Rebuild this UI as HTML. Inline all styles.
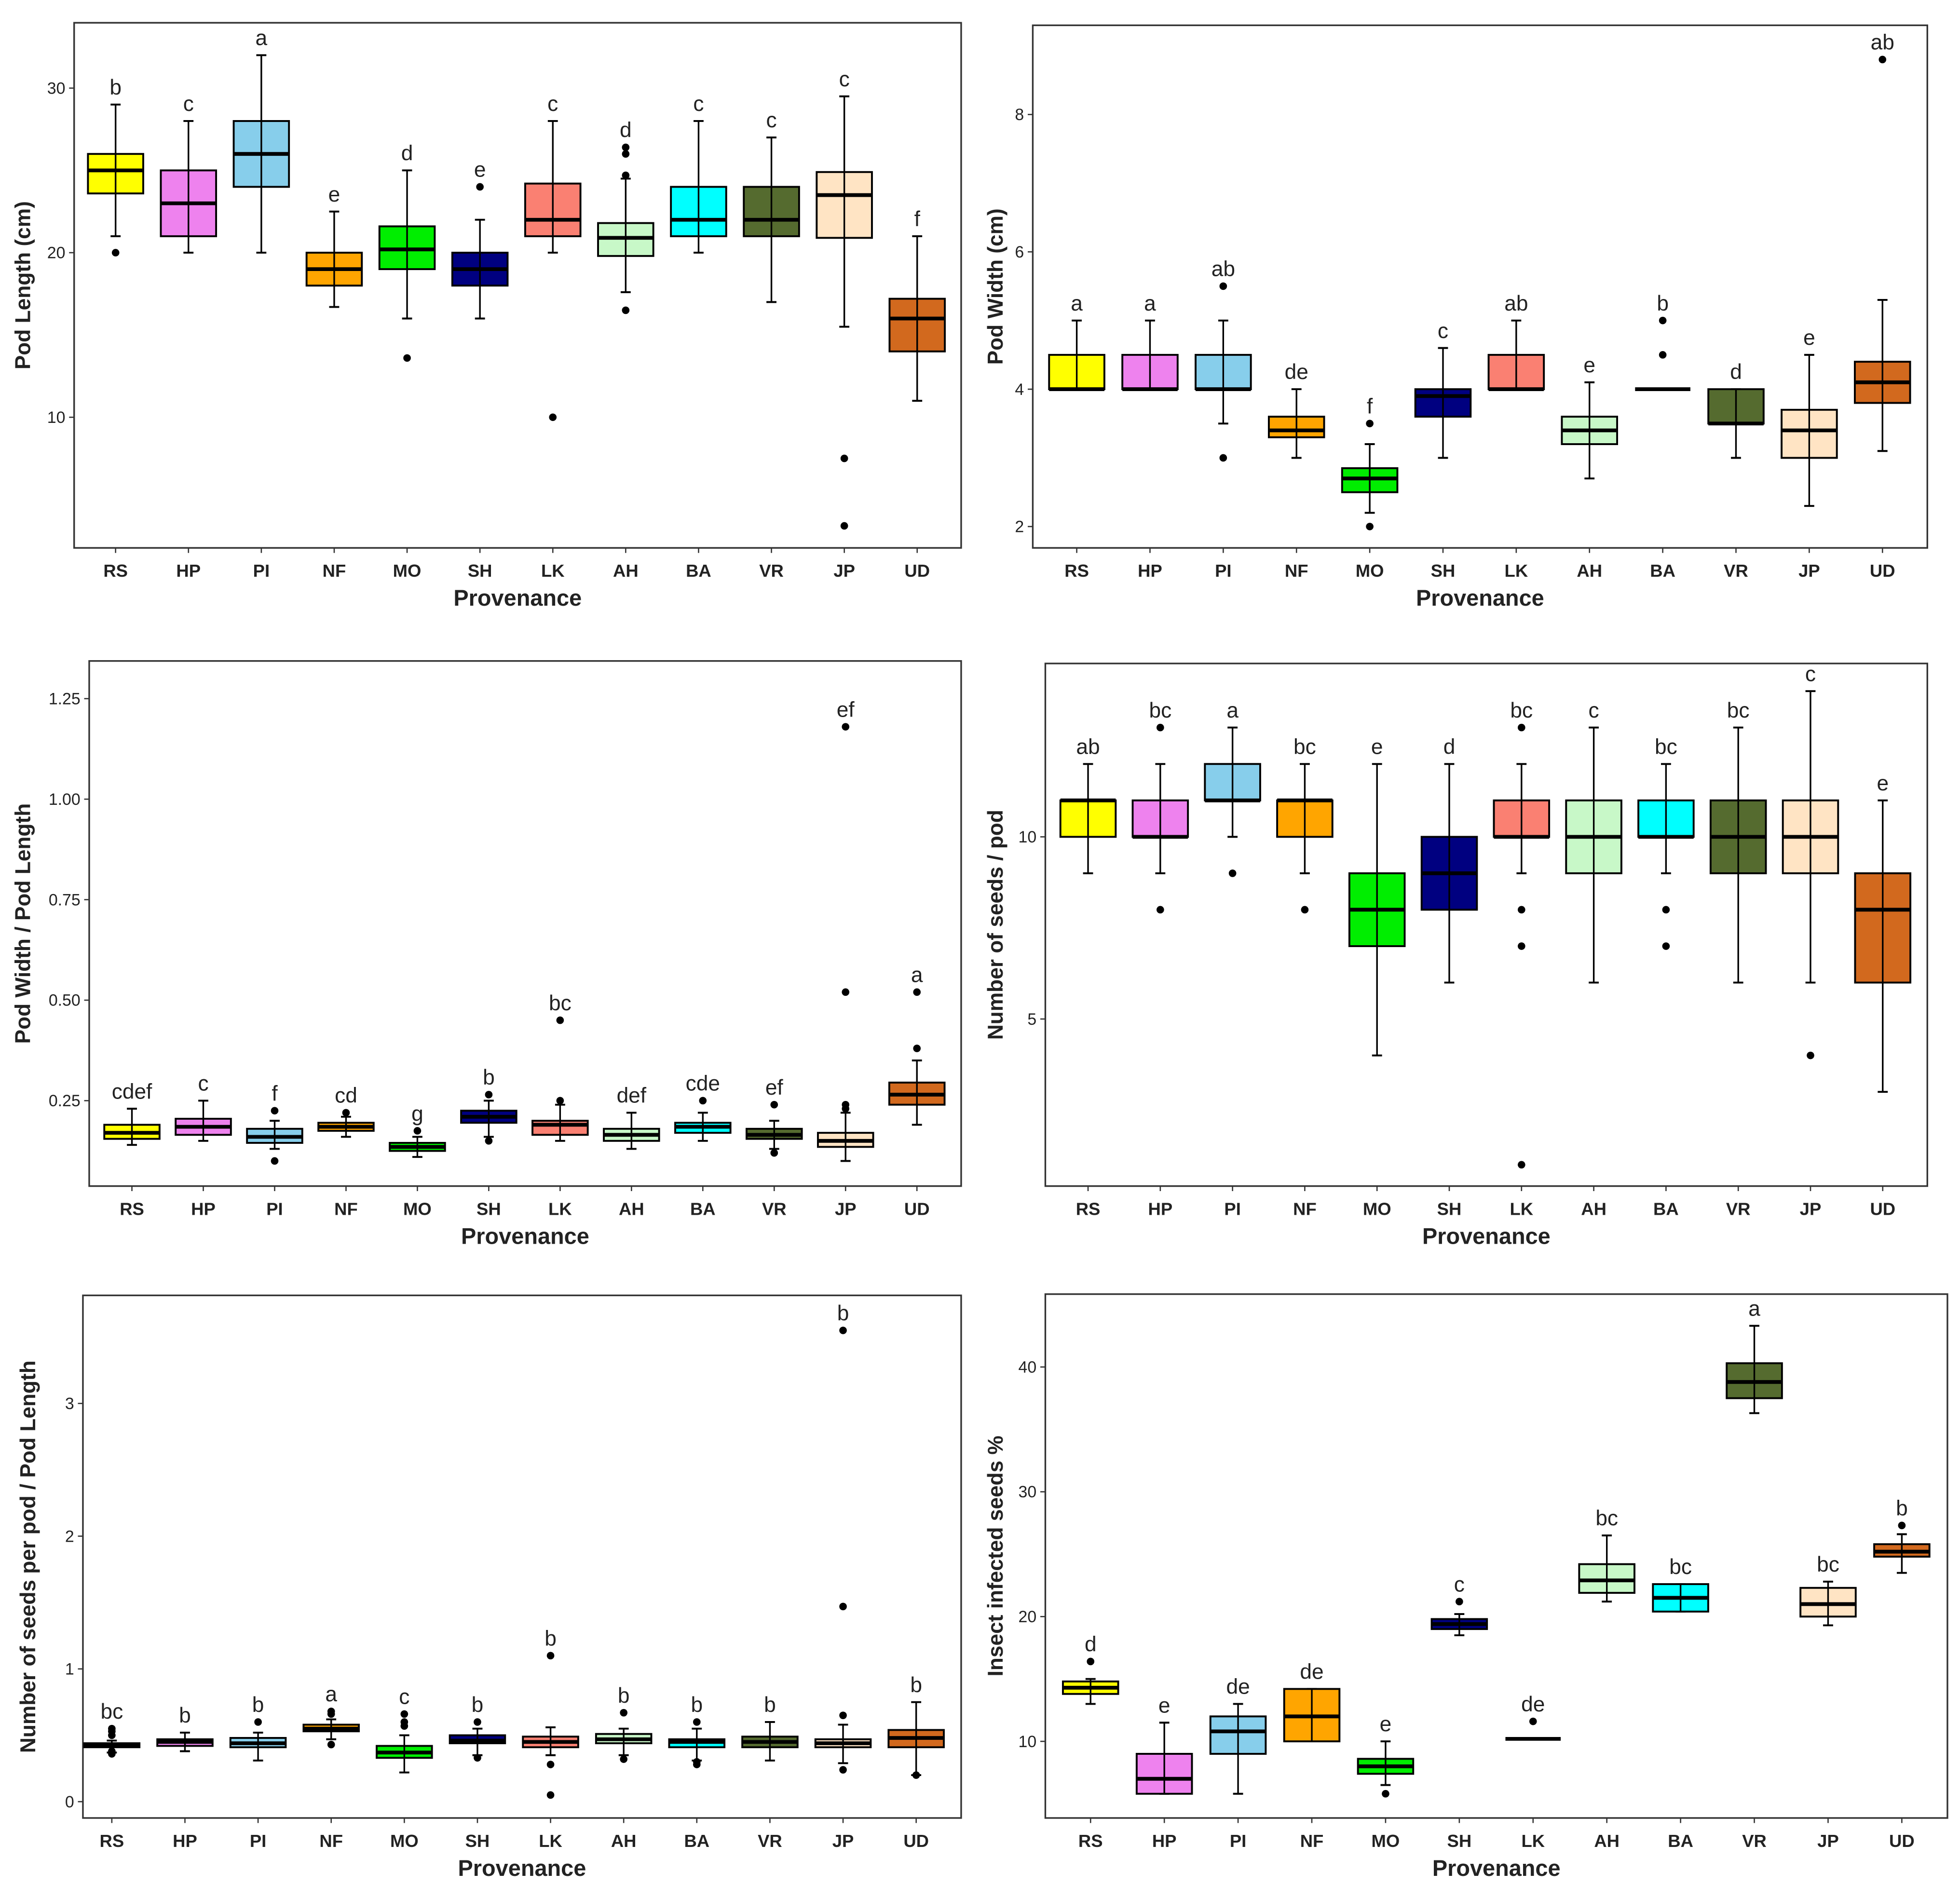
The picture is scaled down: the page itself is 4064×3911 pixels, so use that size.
<!DOCTYPE html>
<html><head><meta charset="utf-8"><style>
html,body{margin:0;padding:0;background:#fff;}
svg{display:block;}
text{font-family:"Liberation Sans",sans-serif;}
</style></head><body>
<svg id="chart" width="4064" height="3911" viewBox="0 0 1560 1501" xmlns="http://www.w3.org/2000/svg"></svg>
<script>
const categories = ["RS","HP","PI","NF","MO","SH","LK","AH","BA","VR","JP","UD"];
const fills = ["#ffff00","#ee82ee","#87ceeb","#ffa500","#00ee00","#000080","#fa8072","#c8f8c8","#00ffff","#556b2f","#ffe4c4","#d2691e"];

// [q1, median, q3, whiskerLow, whiskerHigh]
const p1Stats = [[23.6,25,26,21,29],[21,23,25,20,28],[24,26,28,20,32],[18,19,20,16.7,22.5],[19,20.2,21.6,16,25],[18,19,20,16,22],[21,22,24.2,20,28],[19.8,20.9,21.8,17.6,24.5],[21,22,24,20,28],[21,22,24,17,27],[20.9,23.5,24.9,15.5,29.5],[14,16,17.2,11,21]];
const p1Out = [[20],[],[],[],[13.6],[24],[10],[16.5,24.7,26,26.4],[],[],[7.5,3.4],[]];
const p1Letters = ["b","c","a","e","d","e","c","d","c","c","c","f"];
const p1Ticks = [10,20,30];

const p2Stats = [[4,4,4.5,4,5],[4,4,4.5,4,5],[4,4,4.5,3.5,5],[3.3,3.4,3.6,3,4],[2.5,2.7,2.85,2.2,3.2],[3.6,3.9,4,3,4.6],[4,4,4.5,4,5],[3.2,3.4,3.6,2.7,4.1],[4,4,4,4,4],[3.5,3.5,4,3,4],[3,3.4,3.7,2.3,4.5],[3.8,4.1,4.4,3.1,5.3]];
const p2Out = [[],[],[3,5.5],[],[2,3.5],[],[],[],[4.5,5],[],[],[8.8]];
const p2Letters = ["a","a","ab","de","f","c","ab","e","b","d","e","ab"];
const p2Ticks = [2,4,6,8];

const p3Stats = [[.155,.17,.19,.14,.23],[.165,.185,.205,.15,.25],[.145,.16,.18,.13,.2],[.175,.185,.195,.16,.21],[.125,.135,.145,.11,.16],[.195,.21,.225,.16,.25],[.165,.19,.2,.15,.24],[.15,.165,.18,.13,.22],[.17,.185,.195,.15,.22],[.155,.165,.18,.13,.2],[.135,.15,.17,.1,.22],[.24,.265,.295,.19,.35]];
const p3Out = [[],[],[.1,.225],[.22],[.175],[.15,.265],[.25,.45],[],[.25],[.12,.24],[.23,.24,.52,1.18],[.38,.52]];
const p3Letters = ["cdef","c","f","cd","g","b","bc","def","cde","ef","ef","a"];
const p3Ticks = [0.25,0.5,0.75,1.0,1.25];
const p3TickLabels = ["0.25","0.50","0.75","1.00","1.25"];

const p4Stats = [[10,11,11,9,12],[10,10,11,9,12],[11,11,12,10,13],[10,11,11,9,12],[7,8,9,4,12],[8,9,10,6,12],[10,10,11,9,12],[9,10,11,6,13],[10,10,11,9,12],[9,10,11,6,13],[9,10,11,6,14],[6,8,9,3,11]];
const p4Out = [[],[8,13],[9],[8],[],[],[8,7,13,1],[],[8,7],[],[4],[]];
const p4Letters = ["ab","bc","a","bc","e","d","bc","c","bc","bc","c","e"];
const p4Ticks = [5,10];

const p5Stats = [[.41,.43,.44,.37,.46],[.42,.45,.47,.38,.52],[.41,.44,.48,.31,.52],[.53,.55,.58,.47,.62],[.33,.37,.42,.22,.5],[.44,.46,.5,.35,.55],[.41,.45,.49,.35,.56],[.44,.47,.51,.35,.55],[.41,.45,.47,.31,.55],[.41,.45,.49,.31,.6],[.41,.44,.47,.29,.58],[.41,.48,.54,.2,.75]];
const p5Out = [[.36,.38,.5,.53,.55],[],[.6],[.43,.66,.68],[.57,.6,.66],[.33,.6],[.28,.05,1.1],[.32,.67],[.28,.3,.6],[],[.24,.65,1.47,3.55],[.2]];
const p5Letters = ["bc","b","b","a","c","b","b","b","b","b","b","b"];
const p5Ticks = [0,1,2,3];

const p6Stats = [[13.8,14.3,14.8,13,15],[5.8,7,9,5.8,11.5],[9,10.8,12,5.8,13],[10,12,14.2,10,14.2],[7.4,8,8.6,6.5,10],[19,19.4,19.8,18.5,20.2],[10.2,10.2,10.2,10.2,10.2],[21.9,22.9,24.2,21.2,26.5],[20.4,21.5,22.6,20.4,22.6],[37.5,38.8,40.3,36.3,43.3],[20,21,22.3,19.3,22.8],[24.8,25.2,25.8,23.5,26.6]];
const p6Out = [[16.4],[],[],[],[5.8],[21.2],[11.6],[],[],[],[],[27.3]];
const p6Letters = ["d","e","de","de","e","c","de","bc","bc","a","bc","b"];
const p6Ticks = [10,20,30,40];

const NS = "http://www.w3.org/2000/svg";
const svg = document.getElementById("chart");
function mk(tag, attrs, parent, txt){
  const e = document.createElementNS(NS, tag);
  for (const k in attrs) e.setAttribute(k, attrs[k]);
  if (txt !== undefined) e.textContent = txt;
  (parent || svg).appendChild(e);
  return e;
}

function panel(cfg){
  const g = mk("g", {});
  
  
  // linear y scale from two reference ticks
  const y = v => cfg.py0 + (v - cfg.v0) * (cfg.py1 - cfg.py0) / (cfg.v1 - cfg.v0);
  const x = i => cfg.x0 + i * cfg.dx;
  const frame = mk("rect", {x:cfg.L, y:cfg.T, width:cfg.R-cfg.L, height:cfg.B-cfg.T, fill:"none", stroke:"#333", "stroke-width":1.3}, g);
  
  
  // y ticks
  cfg.ticks.forEach((t, i) => {
    const yy = y(t);
    mk("line", {x1:cfg.L-4, x2:cfg.L, y1:yy, y2:yy, stroke:"#333", "stroke-width":1}, g);
    const lab = mk("text", {x:cfg.L-7, y:yy+4.5, "text-anchor":"end", "font-size":13, fill:"#222"}, g, cfg.tickLabels ? cfg.tickLabels[i] : String(t));
    
    
  });
  const hw = 22;
  categories.forEach((c, i) => {
    const cx = x(i);
    mk("line", {x1:cx, x2:cx, y1:cfg.B, y2:cfg.B+4, stroke:"#333", "stroke-width":1}, g);
    const xl = mk("text", {x:cx, y:cfg.B+23, "text-anchor":"middle", "font-size":14, "font-weight":"bold", fill:"#222"}, g, c);
    
    
    const s = cfg.stats[i];
    const bg = mk("g", {}, g);
    
    
    mk("line", {x1:cx, x2:cx, y1:y(s[3]), y2:y(s[4]), stroke:"#000", "stroke-width":1.3}, bg);
    mk("line", {x1:cx-4, x2:cx+4, y1:y(s[3]), y2:y(s[3]), stroke:"#000", "stroke-width":1.5}, bg);
    mk("line", {x1:cx-4, x2:cx+4, y1:y(s[4]), y2:y(s[4]), stroke:"#000", "stroke-width":1.5}, bg);
    const top = Math.min(y(s[0]), y(s[2])), h = Math.abs(y(s[0]) - y(s[2]));
    mk("rect", {x:cx-hw, y:top, width:hw*2, height:h, fill:fills[i], stroke:"#000", "stroke-width":1.5}, bg);
    mk("line", {x1:cx, x2:cx, y1:top, y2:top+h, stroke:"#000", "stroke-width":1.3}, bg);
    mk("line", {x1:cx-hw, x2:cx+hw, y1:y(s[1]), y2:y(s[1]), stroke:"#000", "stroke-width":3}, bg);
    let maxV = s[4];
    cfg.out[i].forEach(o => {
      const d = mk("circle", {cx:cx, cy:y(o), r:3, fill:"#000"}, bg);
      
      
      if (o > maxV) maxV = o;
    });
    const lt = mk("text", {x:cx, y:y(maxV)-8, "text-anchor":"middle", "font-size":17, fill:"#222"}, g, cfg.letters[i]);
    
    
  });
  const xt = mk("text", {x:(cfg.L+cfg.R)/2, y:cfg.B+46, "text-anchor":"middle", "font-size":18, "font-weight":"bold", fill:"#222"}, g, "Provenance");
  
  
  const ty = (cfg.T+cfg.B)/2;
  const yt = mk("text", {x:cfg.ytx, y:ty, "text-anchor":"middle", "font-size":17, "font-weight":"bold", fill:"#222", transform:`rotate(-90 ${cfg.ytx} ${ty})`}, g, cfg.ytitle);
  
  
}

panel({name:"pod-length-panel", L:59, R:765, T:18, B:436, v0:10, py0:332, v1:30, py1:70, x0:92, dx:58.0, ticks:p1Ticks, stats:p1Stats, out:p1Out, letters:p1Letters, ytitle:"Pod Length (cm)", ytx:24});
panel({name:"pod-width-panel", L:822, R:1534, T:20, B:436, v0:2, py0:419, v1:8, py1:91, x0:857, dx:58.3, ticks:p2Ticks, stats:p2Stats, out:p2Out, letters:p2Letters, ytitle:"Pod Width (cm)", ytx:798});
panel({name:"width-length-ratio-panel", L:71, R:765, T:526, B:944, v0:0.25, py0:876, v1:1.25, py1:556, x0:105, dx:56.8, ticks:p3Ticks, tickLabels:p3TickLabels, stats:p3Stats, out:p3Out, letters:p3Letters, ytitle:"Pod Width / Pod Length", ytx:24});
panel({name:"seeds-per-pod-panel", L:832, R:1534, T:528, B:944, v0:5, py0:811, v1:10, py1:666, x0:866, dx:57.5, ticks:p4Ticks, stats:p4Stats, out:p4Out, letters:p4Letters, ytitle:"Number of seeds / pod", ytx:798});
panel({name:"seeds-per-length-panel", L:66, R:765, T:1031, B:1447, v0:0, py0:1434, v1:3, py1:1117, x0:89, dx:58.2, ticks:p5Ticks, stats:p5Stats, out:p5Out, letters:p5Letters, ytitle:"Number of seeds per pod / Pod Length", ytx:28});
panel({name:"insect-infected-panel", L:832, R:1550, T:1030, B:1447, v0:10, py0:1386, v1:40, py1:1088, x0:868, dx:58.7, ticks:p6Ticks, stats:p6Stats, out:p6Out, letters:p6Letters, ytitle:"Insect infected seeds %", ytx:798});
</script>
</body></html>
